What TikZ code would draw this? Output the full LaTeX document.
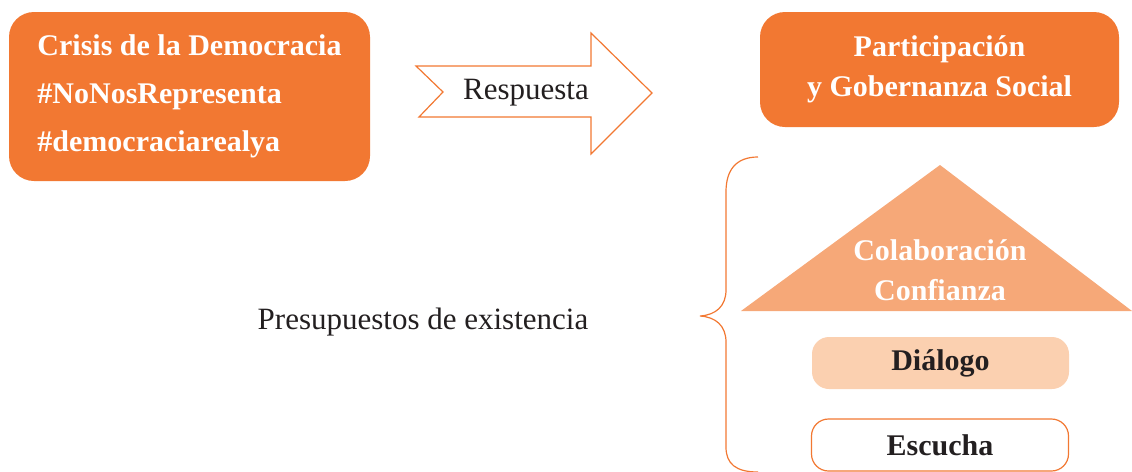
\documentclass[tikz,border=0pt]{standalone}
\usepackage{fontspec}
\setmainfont{Liberation Serif}
\definecolor{naranja}{RGB}{242,120,50}
\definecolor{salmon}{RGB}{246,168,120}
\definecolor{crema}{RGB}{251,208,176}
\definecolor{tinta}{RGB}{35,31,32}
\begin{document}
\begin{tikzpicture}[x=0.5pt, y=-0.5pt]
            \tikzstyle{every node}=[inner sep=0pt, font=\fontsize{15.5}{20}\selectfont, text=tinta]
            \tikzstyle{caja}=[fill=naranja, rounded corners=12.5pt, text=white, font=\fontsize{15}{20}\selectfont\bfseries]
            \tikzstyle{pilar}=[rounded corners=8.5pt, minimum width=128.5pt, minimum height=26pt, font=\fontsize{15}{20}\selectfont\bfseries]
            \tikzstyle{linea}=[draw=naranja, line width=0.6pt]

            \useasboundingbox (0,0) rectangle (1132,472);

            \node[caja, minimum width=180.5pt, minimum height=84.5pt, align=left,
                  font=\fontsize{15}{24}\selectfont\bfseries] (crisis) at (189.5,96.5)
                {Crisis de la Democracia\\\#NoNosRepresenta\\\#democraciarealya};
            \node[caja, minimum width=179.5pt, minimum height=57.5pt, align=center] (gobernanza) at (939.5,69.5)
                {Participación\\y Gobernanza Social};

            \draw[linea, fill=white] (416,66) -- (591,66) -- (591,33) -- (652,93) -- (591,154)
                -- (591,117) -- (419,117) -- (443,92) -- cycle;
            \node (respuesta) at (526,93) {Respuesta};

            \draw[linea] (758,157) .. controls (736,157) and (726,170) .. (726,192) -- (726,290)
                .. controls (726,306) and (716,315) .. (700,316)
                .. controls (716,317) and (726,326) .. (726,342) -- (726,447)
                .. controls (726,464) and (736,472) .. (758,472);
            \node (presupuestos) at (423,322) {Presupuestos de existencia};

            \fill[salmon] (741,311) -- (940,165) -- (1132,311) -- cycle;
            \node[align=center, text=white, font=\fontsize{15}{20}\selectfont\bfseries] (confianza) at (940,270)
                {Colaboración\\Confianza};

            \node[pilar, fill=crema] (dialogo) at (940.5,363) {Diálogo};
            \node[pilar, linea, fill=white] (escucha) at (940,445) {Escucha};
        \end{tikzpicture}
\end{document}
